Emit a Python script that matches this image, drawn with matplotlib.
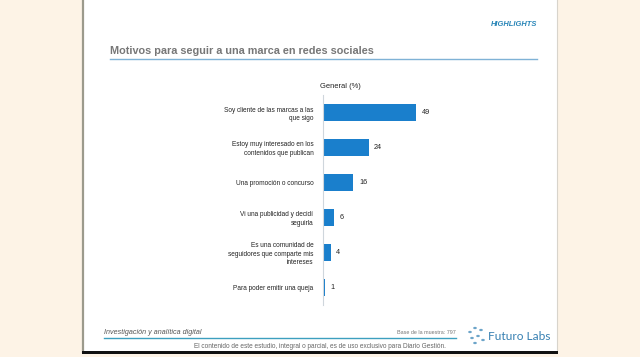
import matplotlib
matplotlib.use("Agg")
import matplotlib.pyplot as plt
from matplotlib.patches import Rectangle, Circle
from matplotlib.lines import Line2D

categories = [
    "Soy cliente de las marcas a las\nque sigo",
    "Estoy muy interesado en los\ncontenidos que publican",
    "Una promoción o concurso",
    "Vi una publicidad y decidí\nseguirla",
    "Es una comunidad de\nseguidores que comparte mis\nintereses",
    "Para poder emitir una queja",
]
values = [49, 24, 16, 6, 4, 1]

title = "Motivos para seguir a una marca en redes sociales"
subtitle = "General (%)"
header = "HIGHLIGHTS"
footer_left = "Investigación y analítica digital"
footer_base = "Base de la muestra: 797"
footer_note = "El contenido de este estudio, integral o parcial, es de uso exclusivo para Diario Gestión."
logo = "Futuro Labs"

W, H = 640, 357
fig = plt.figure(figsize=(W / 100, H / 100), dpi=100)
fig.patch.set_facecolor("#fdf3e6")

def fx(px):
    return px / W

def fy(py):
    return 1 - py / H

SANS = ["Liberation Sans", "DejaVu Sans"]

# slide
fig.patches.append(Rectangle((fx(83), fy(352)), fx(557) - fx(83), fy(0) - fy(352),
                             transform=fig.transFigure, facecolor="white",
                             edgecolor="none", zorder=-5))
fig.lines.append(Line2D([fx(83), fx(83)], [fy(0), fy(352)], transform=fig.transFigure,
                        color="#9c9a8c", lw=1.6, zorder=1))
fig.lines.append(Line2D([fx(557), fx(557)], [fy(0), fy(352)], transform=fig.transFigure,
                        color="#d8d4cc", lw=0.8, zorder=1))
fig.patches.append(Rectangle((fx(82), fy(354)), fx(558) - fx(82), fy(351) - fy(354),
                             transform=fig.transFigure, facecolor="#111111",
                             edgecolor="none", zorder=1))

fig.text(fx(537), fy(24), header, ha="right", va="center", fontsize=5.4,
         fontweight="bold", fontstyle="italic", color="#2a86b8", family=SANS)
fig.text(fx(110), fy(51), title, ha="left", va="center", fontsize=7.8,
         fontweight="bold", color="#777777", family=SANS)
fig.lines.append(Line2D([fx(110), fx(537)], [fy(59), fy(59)], transform=fig.transFigure,
                        color="#7fb2d6", lw=1.0))
fig.text(fx(340), fy(86), subtitle, ha="center", va="center", fontsize=5.4,
         color="#222222", family=SANS)

# footer
fig.text(fx(104), fy(332), footer_left, ha="left", va="center", fontsize=5.1,
         fontstyle="italic", color="#555555", family=SANS)
fig.lines.append(Line2D([fx(104), fx(456)], [fy(338), fy(338)], transform=fig.transFigure,
                        color="#3d9fbf", lw=1.0))
fig.text(fx(456), fy(332), footer_base, ha="right", va="center", fontsize=3.9,
         color="#777777", family=SANS)
fig.text(fx(320), fy(346), footer_note, ha="center", va="center", fontsize=4.7,
         color="#666666", family=SANS)
fig.text(fx(551), fy(336), logo, ha="right", va="center", fontsize=8.6,
         color="#3780b2", family=["Lato", "Liberation Sans"])
for (cx, cy) in [(470, 332), (475, 328), (481, 330), (472, 338), (478, 336), (483, 340), (475, 343)]:
    fig.patches.append(Circle((fx(cx), fy(cy)), 1.3 / W, transform=fig.transFigure,
                              facecolor="white", edgecolor="#4a90bd", lw=0.6))

# bar chart
ax = fig.add_axes([fx(323), fy(305), 55 * 1.9 / W, 210 / H])
ax.set_zorder(5)
ax.set_facecolor("none")
ypos = list(range(len(categories)))
ax.barh(ypos, values, height=0.46, color="#1a7fcc", zorder=2)
ax.set_xlim(0, 55)
ax.set_ylim(len(categories) - 0.5, -0.5)
ax.set_yticks(ypos)
ax.set_yticklabels(categories, fontsize=4.7, color="#222222", family=SANS,
                   linespacing=1.25)
ax.tick_params(axis="y", length=0, pad=7)
ax.set_xticks([])
for s in ["top", "right", "bottom"]:
    ax.spines[s].set_visible(False)
ax.spines["left"].set_color("#cfd6dc")
ax.spines["left"].set_linewidth(0.8)
for y, v in zip(ypos, values):
    ax.annotate(str(v), (v, y), xytext=(4, 0), textcoords="offset points",
                ha="left", va="center", fontsize=5.2, color="#222222", family=SANS)

fig.savefig("out.png", dpi=100, facecolor=fig.get_facecolor())
